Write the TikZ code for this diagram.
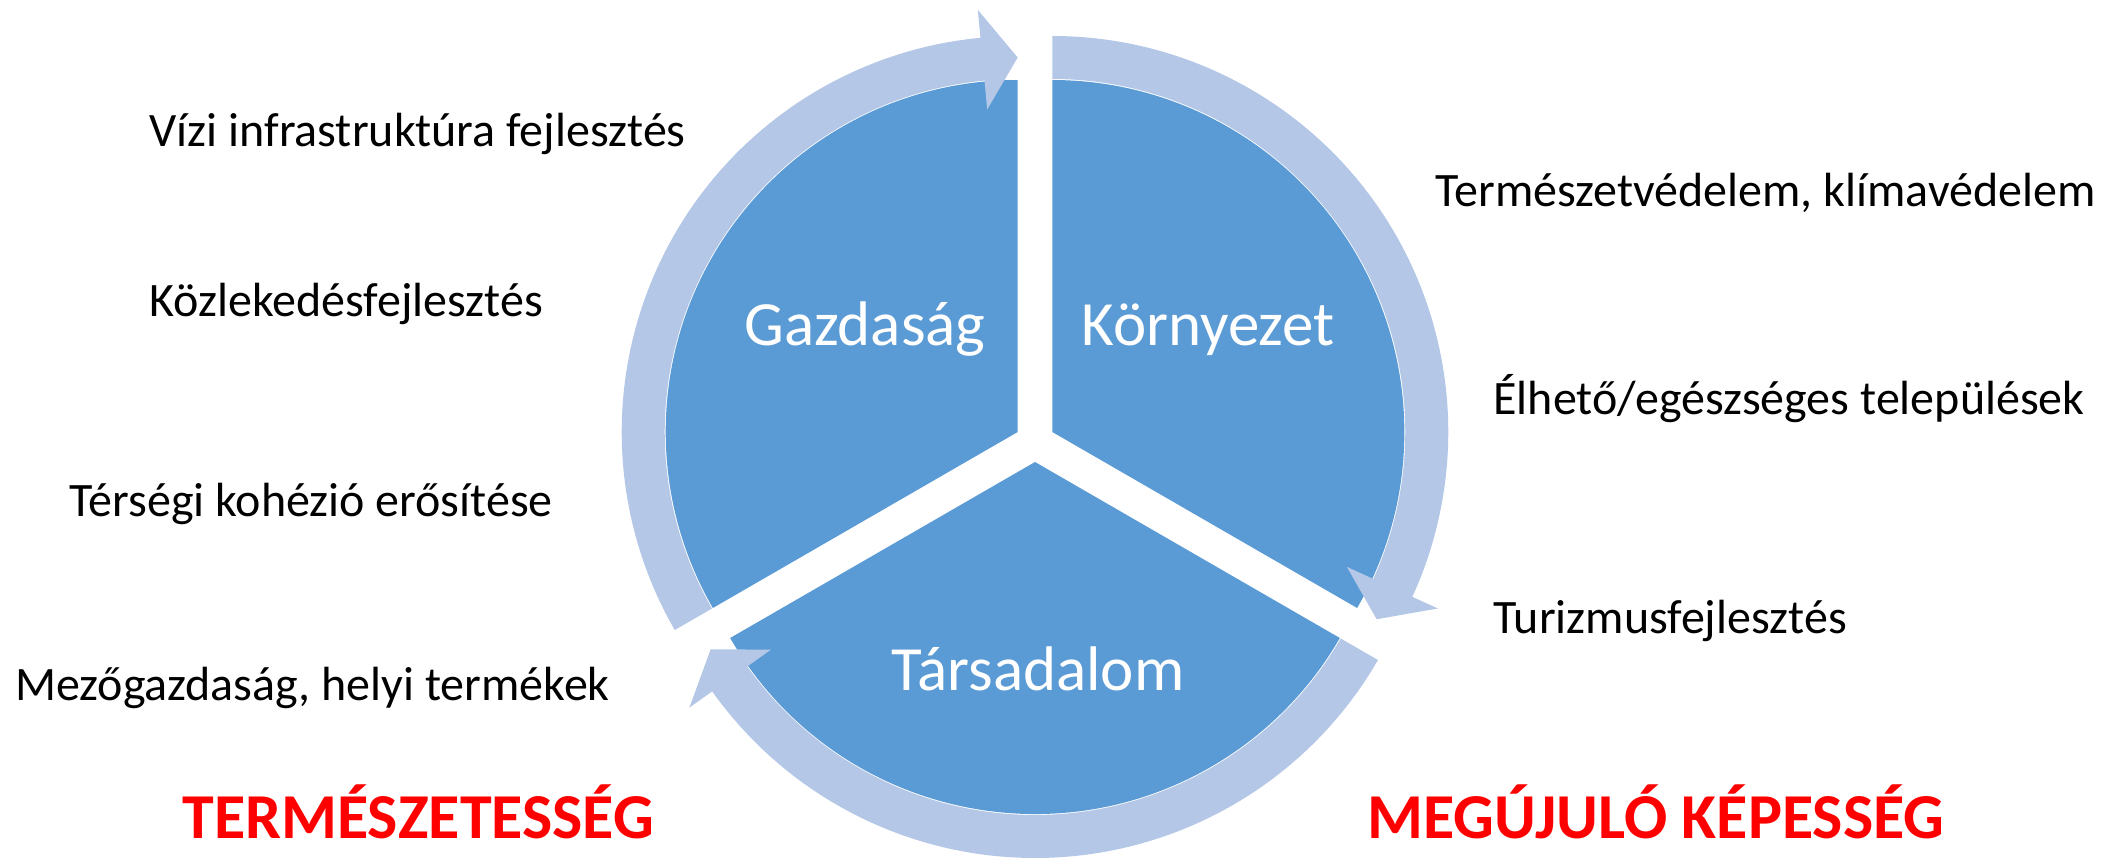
\documentclass[tikz,border=0pt]{standalone}
\usepackage{fontspec}
\setmainfont{Carlito}
\usetikzlibrary{calc}
\definecolor{piecol}{HTML}{5B9BD5}
\definecolor{ringcol}{HTML}{B4C7E7}
\definecolor{redtxt}{HTML}{FF0000}
\tikzset{
  piece/.style={fill=piecol},
  ringarrow/.style={fill=ringcol},
  lbl/.style={inner sep=0pt, anchor=base west, text=black, font=\fontsize{24}{28}\selectfont},
  bigred/.style={inner sep=0pt, anchor=base west, text=redtxt, font=\fontsize{32}{38}\selectfont\bfseries},
  seglbl/.style={inner sep=0pt, anchor=base, text=white, font=\fontsize{31.5}{37}\selectfont}
}
\begin{document}
\begin{tikzpicture}[x=0.5pt,y=0.5pt]
\useasboundingbox (0,0) rectangle (2101,858);
\coordinate (G) at (1017.7,426);
\coordinate (K) at (1052.3,426);
\coordinate (T) at (1035,396);
% pie pieces
\fill[piece] (G) -- ($(G)+(90:352)$) arc[start angle=90,end angle=210,radius=352] -- cycle;
\fill[piece] (K) -- ($(K)+(-30:352)$) arc[start angle=-30,end angle=90,radius=352] -- cycle;
\fill[piece] (T) -- ($(T)+(210:352)$) arc[start angle=210,end angle=330,radius=352] -- cycle;
% ring arrows
\fill[ringarrow] ($(G)+(210:396)$) arc[start angle=210,end angle=95.4,radius=396]
  -- ($(G)+(95.4:424)$) -- ($(G)+(90:374.5)$) -- ($(G)+(95.4:324)$) -- ($(G)+(95.4:353)$)
  arc[start angle=95.4,end angle=210,radius=353] -- cycle;
\fill[ringarrow] ($(K)+(90:396)$) arc[start angle=90,end angle=-24.6,radius=396]
  -- ($(K)+(-24.6:424)$) -- ($(K)+(-30:374.5)$) -- ($(K)+(-24.6:324)$) -- ($(K)+(-24.6:353)$)
  arc[start angle=-24.6,end angle=90,radius=353] -- cycle;
\fill[ringarrow] ($(T)+(330:396)$) arc[start angle=330,end angle=215.4,radius=396]
  -- ($(T)+(215.4:424)$) -- ($(T)+(210:374.5)$) -- ($(T)+(215.4:324)$) -- ($(T)+(215.4:353)$)
  arc[start angle=215.4,end angle=330,radius=353] -- cycle;
% segment labels
\node[seglbl] (gaz) at (865,512) {Gazdaság};
\node[seglbl] (kor) at (1208,512) {Környezet};
\node[seglbl] (tar) at (1038,168) {Társadalom};
% left texts
\node[lbl] (t1) at (149,711.3) {Vízi infrastruktúra fejlesztés};
\node[lbl] (t2) at (149,541.3) {Közlekedésfejlesztés};
\node[lbl] (t3) at (69,341.3) {Térségi kohézió erősítése};
\node[lbl] (t4) at (15,158) {Mezőgazdaság, helyi termékek};
\node[bigred] (t5) at (182,20) {TERMÉSZETESSÉG};
% right texts
\node[lbl] (r1) at (1435,651) {Természetvédelem, klímavédelem};
\node[lbl] (r2) at (1493,443) {Élhető/egészséges települések};
\node[lbl] (r3) at (1493,225) {Turizmusfejlesztés};
\node[bigred] (r4) at (1367,20) {MEGÚJULÓ KÉPESSÉG};
\end{tikzpicture}
\end{document}
